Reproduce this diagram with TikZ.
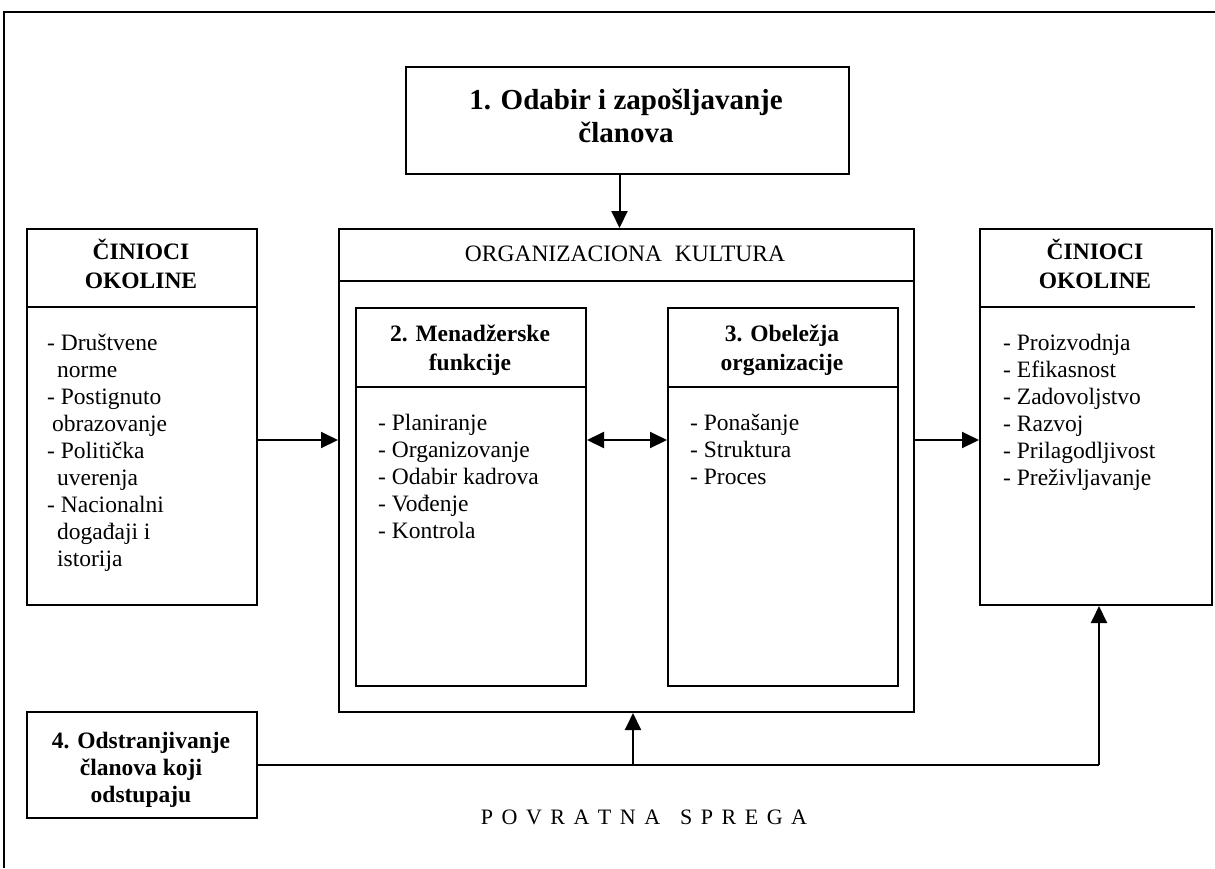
\documentclass[tikz,border=0pt]{standalone}
\usepackage{fontspec}
\setmainfont{Liberation Serif}
\usetikzlibrary{arrows.meta}

\newcommand\bodyfont{\fontsize{23.5}{27}\selectfont}
\newcommand\headfont{\fontsize{23.5}{29}\selectfont\bfseries}
\newcommand\lsgap{\hspace{8.5pt}}

% multi-line nodes are placed by the baseline of their last line
\tikzset{
  boxframe/.style={draw, line width=2pt, inner sep=0pt, anchor=north west},
  divider/.style={line width=2pt},
  tip/.style={Triangle[length=17pt,width=16pt]},
  conn/.style={line width=2pt, -{Triangle[length=17pt,width=16pt]}},
  biconn/.style={line width=2pt, {Triangle[length=17pt,width=16pt]}-{Triangle[length=17pt,width=16pt]}},
  plainline/.style={line width=2pt},
  headtext/.style={anchor=base, align=center, inner sep=0pt, font=\headfont},
  listtext/.style={anchor=base west, align=left, inner sep=0pt, font=\bodyfont},
}

\begin{document}
\begin{tikzpicture}[x=1pt, y=-1pt]
\useasboundingbox (0,0) rectangle (1215,868);

% outer frame (only top and left edges fall inside the page)
\draw[line width=2.4pt] (4,868) -- (4,12) -- (1215,12);

% boxes
\node[boxframe, minimum width=443pt, minimum height=107pt] (b1) at (405,66) {};
\node[boxframe, minimum width=575pt, minimum height=483pt] (org) at (338,228) {};
\node[boxframe, minimum width=230pt, minimum height=378pt] (b2) at (355,307) {};
\node[boxframe, minimum width=230pt, minimum height=378pt] (b3) at (667,307) {};
\node[boxframe, minimum width=230pt, minimum height=376pt] (left) at (26,228) {};
\node[boxframe, minimum width=232pt, minimum height=376pt] (right) at (979,228) {};
\node[boxframe, minimum width=230pt, minimum height=106pt] (b4) at (26,711) {};

% header dividers
\draw[divider] (org.west |- 0,281) -- (org.east |- 0,281);
\draw[divider] (b2.west |- 0,387) -- (b2.east |- 0,387);
\draw[divider] (b3.west |- 0,387) -- (b3.east |- 0,387);
\draw[divider] (left.west |- 0,307) -- (left.east |- 0,307);
\draw[divider] (right.west |- 0,307) -- (1195,307);

% texts
\node[headtext, font=\fontsize{29}{33}\selectfont\bfseries] (t1) at (626,142) {1. Odabir i zapošljavanje\\članova};
\node[anchor=base, inner sep=0pt, font=\bodyfont] (torg) at (625,261) {ORGANIZACIONA\hspace{0.55em}KULTURA};
\node[headtext] (t2) at (470,370) {2. Menadžerske\\funkcije};
\node[headtext] (t3) at (782,370) {3. Obeležja\\organizacije};
\node[headtext] (tl) at (141,288) {ČINIOCI\\OKOLINE};
\node[headtext] (tr) at (1095,288) {ČINIOCI\\OKOLINE};
\node[headtext, font=\fontsize{23.5}{27}\selectfont\bfseries] (t4) at (141,802) {4. Odstranjivanje\\članova koji\\odstupaju};

\node[listtext] (ll) at (47,566) {- Društvene\\\hspace{10pt}norme\\- Postignuto\\\hspace{5pt}obrazovanje\\- Politička\\\hspace{10pt}uverenja\\- Nacionalni\\\hspace{10pt}događaji i\\\hspace{10pt}istorija};
\node[listtext] (lr) at (1003,485) {- Proizvodnja\\- Efikasnost\\- Zadovoljstvo\\- Razvoj\\- Prilagodljivost\\- Preživljavanje};
\node[listtext] (l2) at (378,538) {- Planiranje\\- Organizovanje\\- Odabir kadrova\\- Vođenje\\- Kontrola};
\node[listtext] (l3) at (690,484) {- Ponašanje\\- Struktura\\- Proces};

\node[anchor=base, inner sep=0pt, font=\fontsize{22}{26}\selectfont] (fbt) at (644,824)
  {P\lsgap O\lsgap V\lsgap R\lsgap A\lsgap T\lsgap N\lsgap A\hspace{20pt}S\lsgap P\lsgap R\lsgap E\lsgap G\lsgap A};

% connectors
\coordinate (midrow) at (0,440);
\coordinate (fb) at (633,764);
\draw[conn] ([xshift=-8pt]b1.south) -- ([xshift=-8pt]b1.south |- org.north);
\draw[conn] (left.east |- midrow) -- (org.west |- midrow);
\draw[biconn] (b2.east |- midrow) -- (b3.west |- midrow);
\draw[conn] (org.east |- midrow) -- (right.west |- midrow);

% feedback loop
\draw[plainline] (b4.east) -- ([xshift=3pt]right.south |- b4.east);
\draw[conn] ([xshift=3pt]right.south |- b4.east) -- ([xshift=3pt]right.south);
\draw[conn] (fb) -- (fb |- org.south);
\end{tikzpicture}
\end{document}
